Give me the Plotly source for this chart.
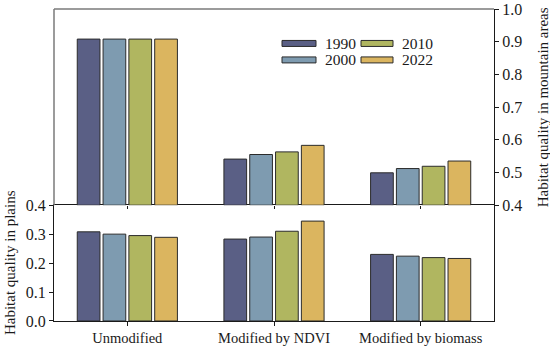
import plotly.graph_objects as go

categories = ["Unmodified", "Modified by NDVI", "Modified by biomass"]
years = ["1990", "2000", "2010", "2022"]

# Habitat quality in mountain areas (top panel, right axis)
mountain_1990 = [0.908, 0.541, 0.499]
mountain_2000 = [0.908, 0.555, 0.512]
mountain_2010 = [0.908, 0.563, 0.519]
mountain_2022 = [0.908, 0.583, 0.535]

# Habitat quality in plains (bottom panel, left axis)
plains_1990 = [0.308, 0.283, 0.230]
plains_2000 = [0.300, 0.290, 0.224]
plains_2010 = [0.295, 0.310, 0.219]
plains_2022 = [0.289, 0.345, 0.216]

colors = ["#5a5f85", "#7e9bb0", "#b0b660", "#dbb55f"]
outline = "#2b2b2b"
FONT = "Liberation Serif"

mountain = [mountain_1990, mountain_2000, mountain_2010, mountain_2022]
plains = [plains_1990, plains_2000, plains_2010, plains_2022]

W, H = 550, 353
L, R, T, B = 54, 56, 8.5, 32
plot_w = W - L - R
plot_h = H - T - B
split = (H - B - 205) / plot_h  # bottom panel height fraction

fig = go.Figure()
for i, y in enumerate(years):
    fig.add_trace(go.Bar(x=categories, y=plains[i], name=y, marker_color=colors[i],
                         marker_line_color=outline, marker_line_width=1,
                         xaxis="x", yaxis="y", showlegend=False))
    fig.add_trace(go.Bar(x=categories, y=[v - 0.4 for v in mountain[i]], base=0.4,
                         name=y, marker_color=colors[i],
                         marker_line_color=outline, marker_line_width=1,
                         xaxis="x2", yaxis="y2", showlegend=False))

ytickfont = dict(family=FONT, size=16, color="#1a1a1a")
xtickfont = dict(family=FONT, size=14.5, color="#1a1a1a")
titlefont = dict(family=FONT, size=15, color="#1a1a1a")

fig.update_layout(
    width=W, height=H,
    margin=dict(l=L, r=R, t=T, b=B, autoexpand=False),
    paper_bgcolor="white", plot_bgcolor="white",
    barmode="group", bargap=0.296, bargroupgap=0.12,
    font=dict(family=FONT, size=14, color="#1a1a1a"),
    xaxis=dict(domain=[0, 1], anchor="y", range=[-0.5, 2.5], showline=True,
               linecolor="#1a1a1a", linewidth=1, mirror=True, ticks="outside",
               ticklen=4, tickcolor="#1a1a1a", tickfont=xtickfont, showgrid=False,
               zeroline=False, automargin=False),
    yaxis=dict(domain=[0, split], anchor="x", range=[0, 0.4],
               tickvals=[0, 0.1, 0.2, 0.3, 0.4], ticktext=["0.0", "0.1", "0.2", "0.3", "0.4"],
               showline=True, linecolor="#1a1a1a", linewidth=1, mirror=True,
               ticks="outside", ticklen=4, tickcolor="#1a1a1a", tickfont=ytickfont,
               showgrid=False, zeroline=False, automargin=False),
    xaxis2=dict(domain=[0, 1], anchor="y2", range=[-0.5, 2.5], matches="x",
                showticklabels=False, showline=False, ticks="outside", ticklen=3,
                tickcolor="#1a1a1a", showgrid=False, zeroline=False, automargin=False),
    yaxis2=dict(domain=[split, 1], anchor="x2", side="right", range=[0.4, 1.0],
                tickvals=[0.4, 0.5, 0.6, 0.7, 0.8, 0.9, 1.0],
                ticktext=["0.4", "0.5", "0.6", "0.7", "0.8", "0.9", "1.0"],
                showline=True, linecolor="#1a1a1a", linewidth=1, ticks="outside",
                ticklen=4, tickcolor="#1a1a1a", tickfont=ytickfont,
                showgrid=False, zeroline=False, automargin=False),
)

def px_x(px):
    return (px - L) / plot_w

def px_y(py):
    return (H - B - py) / plot_h

# axis titles
fig.add_annotation(xref="paper", yref="paper", x=px_x(10), y=px_y(263),
                   text="Habitat quality in plains", textangle=-90, showarrow=False,
                   xanchor="center", yanchor="middle", font=titlefont)
fig.add_annotation(xref="paper", yref="paper", x=px_x(543), y=px_y(107),
                   text="Habitat quality in mountain areas", textangle=-90, showarrow=False,
                   xanchor="center", yanchor="middle", font=titlefont)

# gray frame (top and left) of the upper panel
fig.add_shape(type="line", xref="paper", yref="paper", x0=0, x1=1, y0=1, y1=1,
              line=dict(color="#7a7a7a", width=1.5))
fig.add_shape(type="line", xref="paper", yref="paper", x0=0, x1=0, y0=split, y1=1,
              line=dict(color="#7a7a7a", width=1.5))

# legend: two columns of long flat swatches
legend_cols = [(282, 316, 324), (361, 393, 401)]
legend_rows = [43, 59.5]
order = [(0, 0), (1, 0), (0, 1), (1, 1)]  # (row, col) for 1990, 2000, 2010, 2022
for i, (r, c) in enumerate(order):
    x0, x1, xt = legend_cols[c]
    yc = legend_rows[r]
    fig.add_shape(type="rect", xref="paper", yref="paper",
                  x0=px_x(x0), x1=px_x(x1), y0=px_y(yc + 3), y1=px_y(yc - 3),
                  fillcolor=colors[i], line=dict(color=outline, width=1))
    fig.add_annotation(xref="paper", yref="paper", x=px_x(xt), y=px_y(yc),
                       text=years[i], showarrow=False, xanchor="left", yanchor="middle",
                       borderpad=0, font=dict(family=FONT, size=15.5, color="#1a1a1a"))

fig.write_html("out.html", config={"displayModeBar": False},
               post_script="document.body.style.margin='0';")
